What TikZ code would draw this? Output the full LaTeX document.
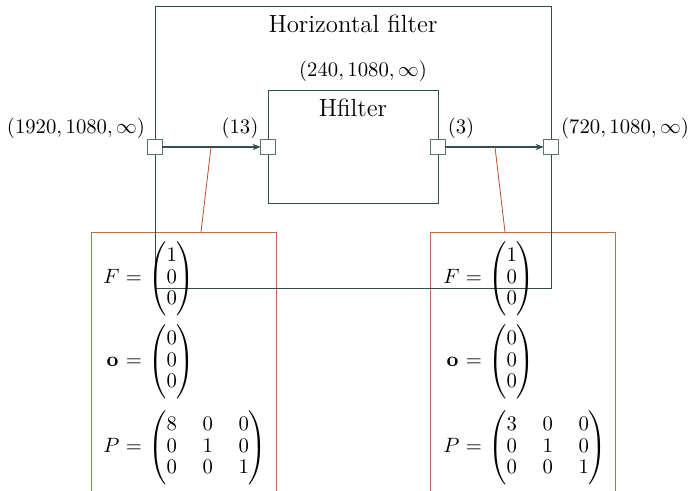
\documentclass[tikz,border=0pt]{standalone}
\usepackage{amsmath}
\usetikzlibrary{arrows.meta}
\definecolor{slate}{RGB}{47,79,79}
\definecolor{rust}{RGB}{180,85,45}
\newcommand{\mypmat}[1]{\left(\rule[-15.5pt]{0pt}{36pt}\begin{matrix}#1\end{matrix}\right)}
\begin{document}
\begin{tikzpicture}[x=0.4831pt,y=-0.4831pt,
  filterbox/.style={draw=slate,line width=0.6pt},
  port/.style={draw=slate!80,fill=white,line width=0.6pt,minimum size=7pt,inner sep=0pt,outer sep=0pt},
  flow/.style={draw=slate,line width=0.6pt,-{Stealth[length=4pt,width=3pt]}},
  infobox/.style={draw=rust!85,line width=0.45pt},
  tag/.style={draw=rust,line width=0.4pt},
  lbl/.style={inner sep=0pt},
  lhs/.style={inner sep=0pt,anchor=base east},
  eqs/.style={inner sep=0pt,anchor=base},
  mat/.style={inner sep=0pt,anchor=base west,execute at begin node={\setlength{\arraycolsep}{6.2pt}\renewcommand{\arraystretch}{0.875}}}]
\useasboundingbox (0,0) rectangle (689,491);
% info boxes (open at bottom)
\draw[infobox] (91,491) -- (91,232) -- (276,232) -- (276,491);
\draw[infobox] (430,491) -- (430,232) -- (615,232) -- (615,491);
% outer filter box
\node[filterbox,minimum width=396*0.4831pt,minimum height=282*0.4831pt,anchor=north west,inner sep=0pt] (outer) at (155,6) {};
\node[lbl,font=\large] (outertitle) at (353,24) {Horizontal filter};
% inner filter box
\node[filterbox,minimum width=170*0.4831pt,minimum height=113*0.4831pt,anchor=north west,inner sep=0pt] (inner) at (268,90) {};
\node[lbl,font=\large] (innertitle) at (353,108) {Hfilter};
\node[lbl] (innershape) at (363,71) {$(240, 1080, \infty)$};
% ports
\node[port] (pin) at (155,147) {};
\node[port] (hin) at (268,147) {};
\node[port] (hout) at (438,147) {};
\node[port] (pout) at (551,147) {};
\draw[flow] (pin) -- (hin);
\draw[flow] (hout) -- (pout);
% port labels
\node[lbl] (lin) at (76,128) {$(1920, 1080, \infty)$};
\node[lbl] (l13) at (240,128) {$(13)$};
\node[lbl] (l3) at (461,128) {$(3)$};
\node[lbl] (lout) at (625,128) {$(720, 1080, \infty)$};
% tags
\coordinate (t1a) at (211,147);
\coordinate (t1b) at (201,232);
\coordinate (t2a) at (495,147);
\coordinate (t2b) at (505,232);
\draw[tag] (t1a) -- (t1b);
\draw[tag] (t2a) -- (t2b);
% left info
\node[lhs] (lFl) at (120,284) {$F$};
\node[eqs] (lFe) at (134,284) {$=$};
\node[mat] (lFm) at (148,284) {$\mypmat{1\\0\\0}$};
\node[lhs] (lol) at (119,367) {$\mathbf{o}$};
\node[eqs] (loe) at (134,367) {$=$};
\node[mat] (lom) at (148,367) {$\mypmat{0\\0\\0}$};
\node[lhs] (lPl) at (120,453) {$P$};
\node[eqs] (lPe) at (134,453) {$=$};
\node[mat] (lPm) at (148,453) {$\mypmat{8&0&0\\0&1&0\\0&0&1}$};
% right info
\node[lhs] (rFl) at (460,284) {$F$};
\node[eqs] (rFe) at (474,284) {$=$};
\node[mat] (rFm) at (488,284) {$\mypmat{1\\0\\0}$};
\node[lhs] (rol) at (459,367) {$\mathbf{o}$};
\node[eqs] (roe) at (474,367) {$=$};
\node[mat] (rom) at (488,367) {$\mypmat{0\\0\\0}$};
\node[lhs] (rPl) at (460,453) {$P$};
\node[eqs] (rPe) at (474,453) {$=$};
\node[mat] (rPm) at (488,453) {$\mypmat{3&0&0\\0&1&0\\0&0&1}$};
\end{tikzpicture}
\end{document}
